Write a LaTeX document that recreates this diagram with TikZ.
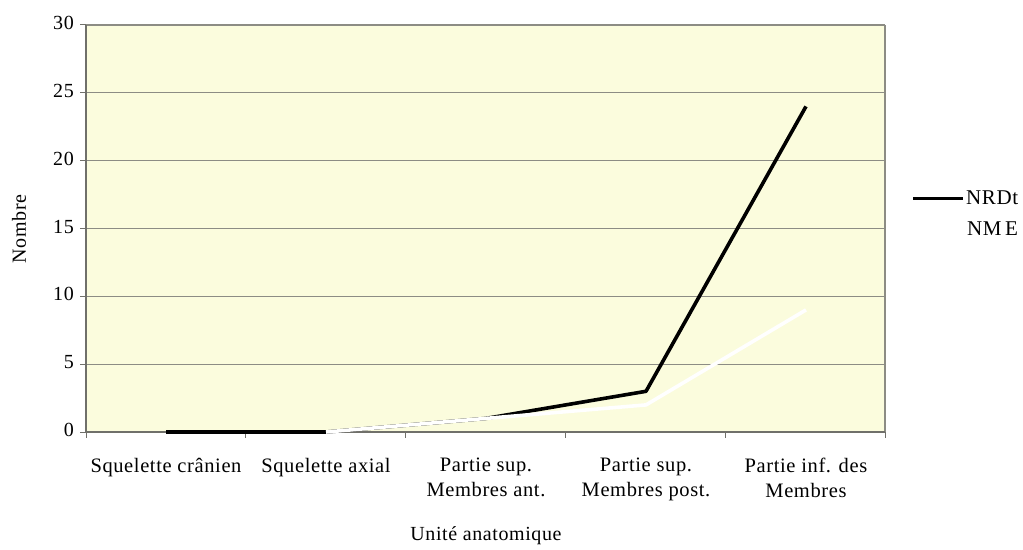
\documentclass[tikz,border=0pt]{standalone}
\usepackage{fontspec}
\setmainfont{Liberation Serif}[LetterSpace=3]
\definecolor{plotbg}{HTML}{FBFCDD}
\definecolor{gridgray}{HTML}{8C8C84}
\tikzset{
  tick label/.style={font=\fontsize{20}{24}\selectfont, inner sep=0pt},
  legend label/.style={font=\fontsize{21}{24}\selectfont, inner sep=0pt, anchor=west},
  cat label/.style={font=\fontsize{20.5}{25}\selectfont, align=center, anchor=north, inner sep=0pt}
}
\begin{document}
\begin{tikzpicture}[x=1pt,y=-1pt]
  \useasboundingbox (0,0) rectangle (1023,549);
  \fill[plotbg] (86,25) rectangle (885,432);
  \foreach \v in {5,10,...,30}
    \draw[gridgray, line width=1.3pt] (86,{432-13.567*\v}) -- (885,{432-13.567*\v});
  \draw[gridgray, line width=1.1pt] (885,25) -- (885,432);
  \draw[gridgray!80!black, line width=1.1pt] (86,25) -- (86,432) -- (885,432);
  \foreach \v in {0,5,...,30} {
    \draw[gridgray!80!black, line width=1pt] (80,{432-13.567*\v}) -- (86,{432-13.567*\v});
    \node[tick label, anchor=east] (y\v) at (74,{430-13.567*\v}) {\v};
  }
  \foreach \i in {0,...,5}
    \draw[gridgray!80!black, line width=1pt] ({86+159.8*\i},432) -- ({86+159.8*\i},438);
  \node[tick label, rotate=90] (ytitle) at (19,229) {Nombre};
  \node[cat label] (c1) at (166,458) {Squelette crânien};
  \node[cat label] (c2) at (326,458) {Squelette axial};
  \node[cat label] (c3) at (486,458) {Partie sup.\\Membres ant.};
  \node[cat label] (c4) at (646,458) {Partie sup.\\Membres post.};
  \node[cat label] (c5) at (806,458) {Partie inf. des\\Membres};
  \node[tick label] (xtitle) at (486,536) {Unité anatomique};
  \coordinate (r1) at (166,432);
  \coordinate (r2) at (326,432);
  \coordinate (r3) at (486,418.4);
  \coordinate (r4) at (646,391.3);
  \coordinate (r5) at (806,106.4);
  \coordinate (m2) at (326,432);
  \coordinate (m3) at (486,418.4);
  \coordinate (m4) at (646,404.9);
  \coordinate (m5) at (806,309.9);
  \draw[black, line width=3.6pt, line join=round] (r1) -- (r2) -- (r3) -- (r4) -- (r5);
  \draw[white, line width=3.6pt, line join=round] (m2) -- (m3) -- (m4) -- (m5);
  \coordinate (la) at (913,198);
  \coordinate (lb) at (963,198);
  \draw[black, line width=3pt] (la) -- (lb);
  \node[legend label] (nrdt) at ([xshift=3pt]lb) {NRDt};
  \coordinate (lc) at (913,229);
  \coordinate (ld) at (963,229);
  \draw[white, line width=3pt] (lc) -- (ld);
  \node[legend label] (nme) at ([xshift=4pt]ld) {NM\,E};
\end{tikzpicture}
\end{document}
